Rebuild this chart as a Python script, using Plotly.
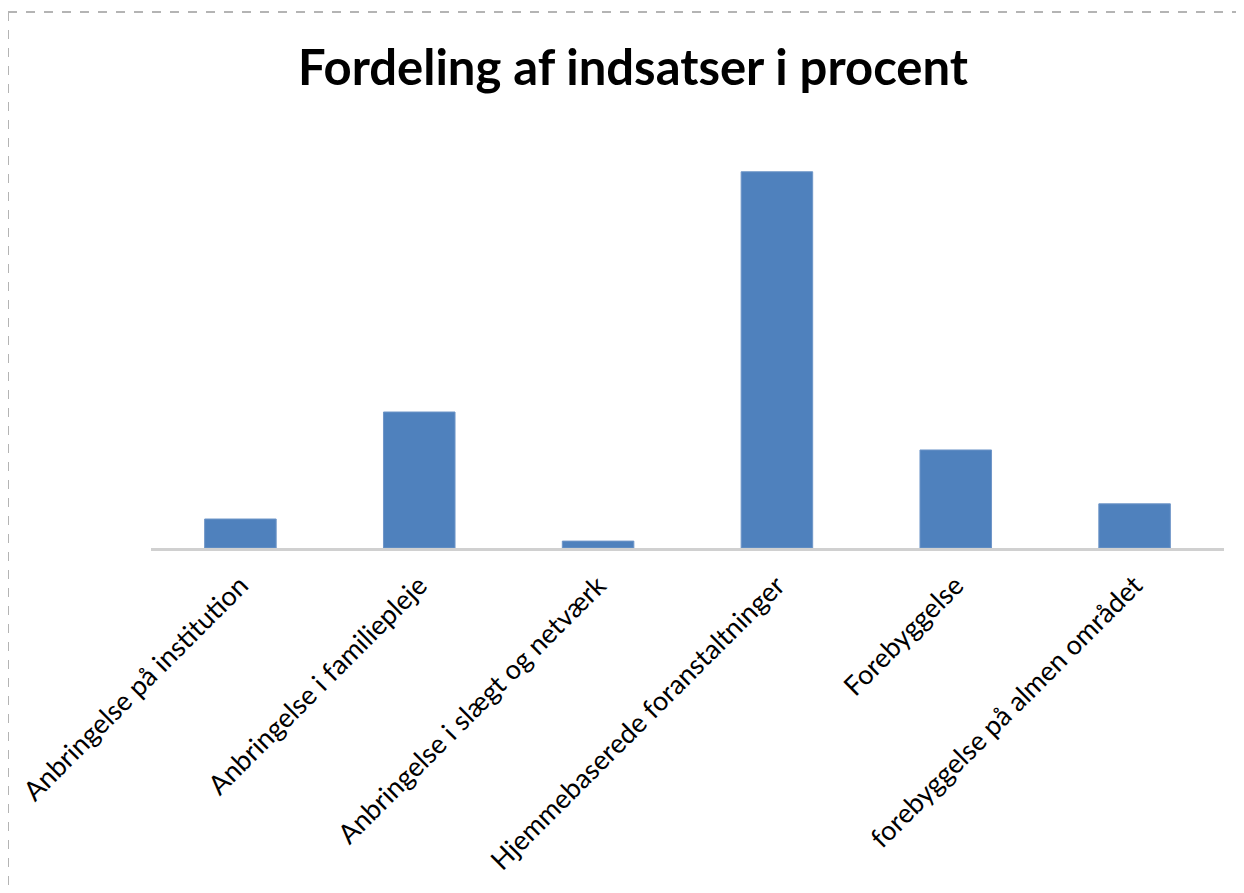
import plotly.graph_objects as go

categories = [
    "Anbringelse på institution",
    "Anbringelse i familiepleje",
    "Anbringelse i slægt og netværk",
    "Hjemmebaserede foranstaltninger",
    "Forebyggelse",
    "forebyggelse på almen området",
]
values = [4.2, 19.7, 1.0, 54.5, 14.2, 6.4]

W, H = 1244, 893
OFF = 8  # page body margin
ml, mr, mt, mb = 151 - OFF, 1244 - (1224 - OFF), 120 - OFF, H - (548 - OFF)
pw, ph = W - ml - mr, H - mt - mb

def px(p):
    return (p - OFF - ml) / pw

def py(q):
    return (H - mb - (q - OFF)) / ph

fig = go.Figure(
    go.Bar(
        x=categories,
        y=values,
        marker=dict(color="#4F81BD", line=dict(color="#6F96C8", width=1)),
        hoverinfo="x+y",
    )
)

fig.update_layout(
    width=W,
    height=H,
    margin=dict(l=ml, r=mr, t=mt, b=mb, autoexpand=False),
    paper_bgcolor="white",
    plot_bgcolor="white",
    bargap=0.6,
    showlegend=False,
    title=dict(
        text="<b>Fordeling af indsatser i procent</b>",
        x=(633 - OFF) / W,
        xanchor="center",
        y=1 - (68 - OFF) / H,
        yanchor="middle",
        font=dict(family="Lato", size=49, color="black"),
    ),
    font=dict(family="Lato", color="black"),
    xaxis=dict(
        showline=True,
        linecolor="#D0D0D0",
        linewidth=3,
        tickangle=-45,
        ticks="outside",
        ticklen=8,
        tickcolor="rgba(0,0,0,0)",
        tickfont=dict(family="Lato", size=27, color="black"),
        showgrid=False,
        zeroline=False,
    ),
    yaxis=dict(
        range=[0, 62.0],
        visible=False,
        showgrid=False,
        zeroline=False,
    ),
    shapes=[
        dict(type="line", xref="paper", yref="paper",
             x0=px(8), x1=px(1270), y0=py(12), y1=py(12),
             line=dict(color="#B4B4B4", width=2, dash="dash")),
        dict(type="line", xref="paper", yref="paper",
             x0=px(8), x1=px(8), y0=py(12), y1=py(920),
             line=dict(color="#B4B4B4", width=2, dash="dash")),
    ],
)

fig.write_html("out.html")
